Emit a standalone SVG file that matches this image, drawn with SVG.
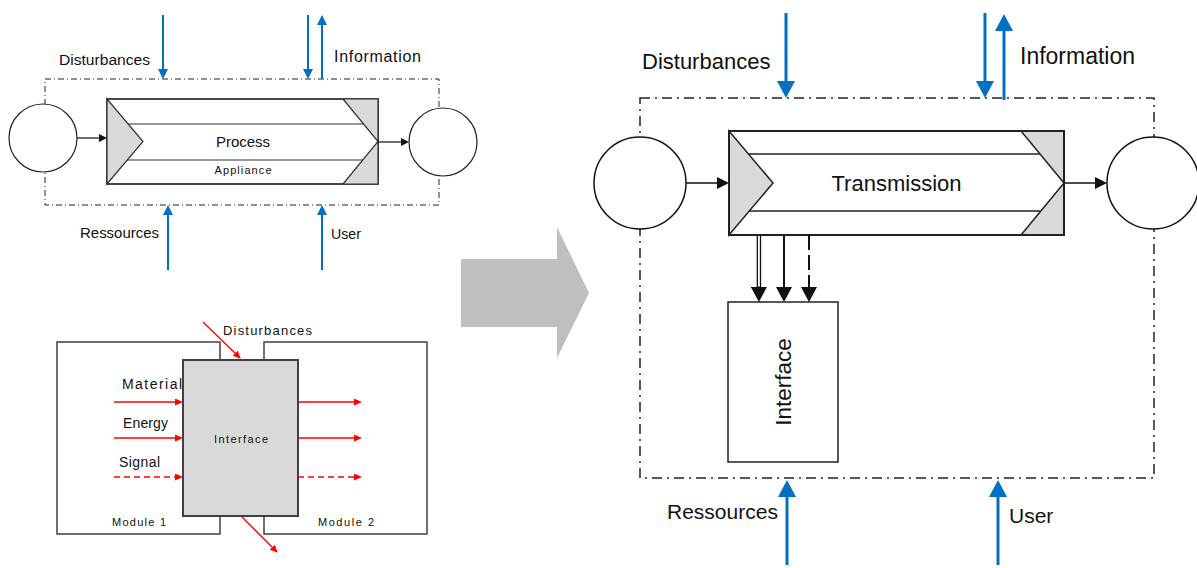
<svg xmlns="http://www.w3.org/2000/svg" width="1197" height="568" viewBox="0 0 1197 568">
<style>
text{font-family:"Liberation Sans",Arial,sans-serif;fill:#111}
.bl{stroke:#0070C0;fill:none}
.bk{stroke:#111;fill:none}
.rd{stroke:#FF0000;fill:none;stroke-width:1.3}
.dd{fill:none;stroke:#222}
.g{fill:#D9D9D9}
</style>
<defs>
<marker id="blueL" markerUnits="userSpaceOnUse" markerWidth="18" markerHeight="18" refX="8" refY="9" orient="auto"><path d="M0,0 L17,9 L0,18 z" fill="#0070C0"/></marker>
<marker id="blueS" markerUnits="userSpaceOnUse" markerWidth="11" markerHeight="11" refX="5" refY="5" orient="auto"><path d="M0,0 L10,5 L0,10 z" fill="#0070C0"/></marker>
<marker id="blkL" markerUnits="userSpaceOnUse" markerWidth="16" markerHeight="16" refX="7" refY="8" orient="auto"><path d="M0,0 L15,8 L0,16 z" fill="#111"/></marker>
<marker id="blkM" markerUnits="userSpaceOnUse" markerWidth="13" markerHeight="13" refX="6" refY="6" orient="auto"><path d="M0,0 L12,6 L0,12 z" fill="#111"/></marker>
<marker id="blkS" markerUnits="userSpaceOnUse" markerWidth="9" markerHeight="9" refX="4" refY="4" orient="auto"><path d="M0,0 L8,4 L0,8 z" fill="#111"/></marker>
<marker id="red" markerUnits="userSpaceOnUse" markerWidth="9" markerHeight="8" refX="4" refY="3.5" orient="auto"><path d="M0,0 L8,3.5 L0,7 z" fill="#FF0000"/></marker>
</defs>

<!-- ===== Top-left: Process ===== -->
<g id="tl-boundary"><rect x="45" y="79" width="394" height="126" class="dd" stroke-width="1" stroke-dasharray="6 3 1 3"/></g>
<g id="tl-in"><circle cx="43" cy="138" r="34" fill="#fff" stroke="#222" stroke-width="1.2"/></g>
<g id="tl-out"><circle cx="443" cy="142" r="34" fill="#fff" stroke="#222" stroke-width="1.2"/></g>
<g id="tl-process">
<rect x="107" y="99" width="271" height="85" fill="#fff" stroke="#333" stroke-width="1.8"/>
<polygon points="107,99 143,141.5 107,184" class="g" stroke="#333" stroke-width="1.2"/>
<polygon points="343,99 378,99 378,184 343,184 378,141.5" class="g" stroke="#333" stroke-width="1.2"/>
<line x1="128" y1="124" x2="363.6" y2="124" stroke="#333" stroke-width="1.2"/>
<line x1="127.3" y1="160" x2="362.8" y2="160" stroke="#333" stroke-width="1.2"/>
<text x="243" y="147" font-size="15" text-anchor="middle">Process</text>
<text x="243" y="174" font-size="11" text-anchor="middle" textLength="57" lengthAdjust="spacing">Appliance</text>
</g>
<g id="tl-labels">
<text x="59" y="65" font-size="15.5" textLength="91" lengthAdjust="spacingAndGlyphs">Disturbances</text>
<text x="334" y="62" font-size="16" textLength="87" lengthAdjust="spacing">Information</text>
<text x="80" y="238" font-size="15" textLength="79" lengthAdjust="spacingAndGlyphs">Ressources</text>
<text x="331" y="239" font-size="14.5" textLength="30" lengthAdjust="spacingAndGlyphs">User</text>
</g>

<!-- ===== Bottom-left: Interface between modules ===== -->
<g id="bl-module1"><rect x="57" y="342" width="163" height="192" fill="#fff" stroke="#404040" stroke-width="1.5"/>
<text x="112" y="526" font-size="11" textLength="54" lengthAdjust="spacing">Module 1</text></g>
<g id="bl-module2"><rect x="264" y="342" width="163" height="192" fill="#fff" stroke="#404040" stroke-width="1.5"/>
<text x="318" y="526" font-size="11" textLength="56" lengthAdjust="spacing">Module 2</text></g>
<g id="bl-interface"><rect x="183" y="360" width="115" height="156" class="g" stroke="#404040" stroke-width="2"/>
<text x="241" y="443" font-size="11" text-anchor="middle" textLength="54" lengthAdjust="spacing">Interface</text></g>
<g id="bl-labels">
<text x="223" y="335" font-size="13" textLength="89" lengthAdjust="spacing">Disturbances</text>
<text x="122" y="389" font-size="14" textLength="60" lengthAdjust="spacing">Material</text>
<text x="123" y="428" font-size="14" textLength="45" lengthAdjust="spacing">Energy</text>
<text x="119" y="467" font-size="14" textLength="41" lengthAdjust="spacing">Signal</text>
</g>

<!-- ===== Big gray arrow ===== -->
<g id="transition"><polygon points="461,259 557,259 557,227 589,293 557,358 557,327 461,327" fill="#BFBFBF"/></g>

<!-- ===== Right: Transmission ===== -->
<g id="r-boundary"><rect x="640" y="98" width="514" height="380" class="dd" stroke-width="1.5" stroke-dasharray="10 5 2 5"/></g>
<g id="r-in"><circle cx="640" cy="183" r="46" fill="#fff" stroke="#111" stroke-width="1.5"/></g>
<g id="r-out"><circle cx="1153" cy="183" r="46" fill="#fff" stroke="#111" stroke-width="1.5"/></g>
<g id="r-transmission">
<rect x="729" y="131" width="335" height="104" fill="#fff" stroke="#222" stroke-width="2"/>
<polygon points="729,131 773,183 729,235" class="g" stroke="#222" stroke-width="1.5"/>
<polygon points="1021,131 1064,131 1064,235 1021,235 1064,183" class="g" stroke="#222" stroke-width="1.5"/>
<line x1="748.5" y1="154" x2="1040" y2="154" stroke="#222" stroke-width="1.5"/>
<line x1="749.3" y1="211" x2="1040.8" y2="211" stroke="#222" stroke-width="1.5"/>
<rect x="729" y="131" width="335" height="104" fill="none" stroke="#222" stroke-width="2"/>
<text x="896.5" y="191" font-size="22" text-anchor="middle">Transmission</text>
</g>
<g id="r-interface"><rect x="728" y="302" width="110" height="160" fill="#fff" stroke="#222" stroke-width="1.5"/>
<text transform="translate(791,382) rotate(-90)" font-size="22.5" text-anchor="middle">Interface</text></g>
<g id="r-labels">
<text x="642" y="69" font-size="22">Disturbances</text>
<text x="1020" y="64" font-size="23">Information</text>
<text x="667" y="519" font-size="21">Ressources</text>
<text x="1009" y="523" font-size="21">User</text>
</g>

<!-- ===== Connectors ===== -->
<g id="connectors">
<!-- top-left -->
<line x1="163" y1="15" x2="163" y2="74" class="bl" stroke-width="2" marker-end="url(#blueS)"/>
<line x1="308" y1="15" x2="308" y2="74" class="bl" stroke-width="2" marker-end="url(#blueS)"/>
<line x1="322" y1="79" x2="322" y2="20" class="bl" stroke-width="2" marker-end="url(#blueS)"/>
<line x1="168" y1="270" x2="168" y2="210" class="bl" stroke-width="2" marker-end="url(#blueS)"/>
<line x1="322" y1="270" x2="322" y2="210" class="bl" stroke-width="2" marker-end="url(#blueS)"/>
<line x1="77" y1="138" x2="103" y2="138" class="bk" stroke-width="1.2" marker-end="url(#blkS)"/>
<line x1="378" y1="142" x2="405" y2="142" class="bk" stroke-width="1.2" marker-end="url(#blkS)"/>
<!-- bottom-left -->
<line x1="203" y1="322" x2="238" y2="356" class="rd" marker-end="url(#red)"/>
<line x1="241" y1="516" x2="275" y2="550" class="rd" marker-end="url(#red)"/>
<line x1="114" y1="402" x2="179" y2="402" class="rd" marker-end="url(#red)"/>
<line x1="114" y1="438" x2="179" y2="438" class="rd" marker-end="url(#red)"/>
<line x1="114" y1="477" x2="179" y2="477" class="rd" stroke-dasharray="6 4" marker-end="url(#red)"/>
<line x1="298" y1="402" x2="358" y2="402" class="rd" marker-end="url(#red)"/>
<line x1="298" y1="438" x2="358" y2="438" class="rd" marker-end="url(#red)"/>
<line x1="298" y1="477" x2="358" y2="477" class="rd" stroke-dasharray="6 4" marker-end="url(#red)"/>
<!-- right -->
<line x1="786" y1="13" x2="786" y2="89" class="bl" stroke-width="3" marker-end="url(#blueL)"/>
<line x1="985" y1="13" x2="985" y2="89" class="bl" stroke-width="3" marker-end="url(#blueL)"/>
<line x1="1004" y1="100" x2="1004" y2="23" class="bl" stroke-width="3" marker-end="url(#blueL)"/>
<line x1="787" y1="565" x2="787" y2="489" class="bl" stroke-width="3" marker-end="url(#blueL)"/>
<line x1="998" y1="565" x2="998" y2="489" class="bl" stroke-width="3" marker-end="url(#blueL)"/>
<line x1="686" y1="183" x2="723" y2="183" class="bk" stroke-width="1.5" marker-end="url(#blkM)"/>
<line x1="1064" y1="183" x2="1101" y2="183" class="bk" stroke-width="1.5" marker-end="url(#blkM)"/>
<line x1="757.3" y1="235" x2="757.3" y2="290" class="bk" stroke-width="1.3"/>
<line x1="760.5" y1="235" x2="760.5" y2="290" class="bk" stroke-width="1.3"/>
<line x1="758.9" y1="286" x2="758.9" y2="294" class="bk" stroke-width="1" marker-end="url(#blkL)"/>
<line x1="784" y1="235" x2="784" y2="294" class="bk" stroke-width="2" marker-end="url(#blkL)"/>
<line x1="809" y1="235" x2="809" y2="294" class="bk" stroke-width="2" stroke-dasharray="15 5" marker-end="url(#blkL)"/>
</g>
</svg>
